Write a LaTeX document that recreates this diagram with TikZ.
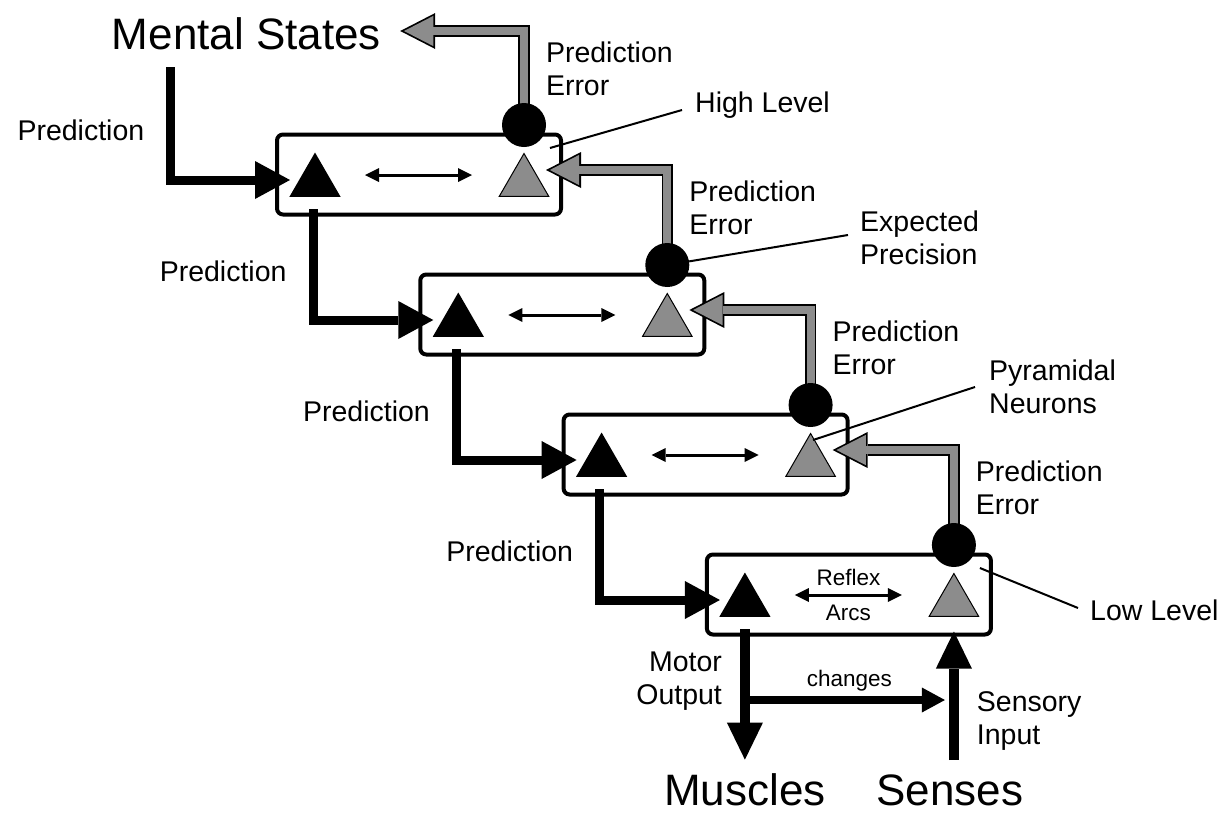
\documentclass[tikz,border=0pt]{standalone}
\usepackage{fontspec}
\setmainfont{Liberation Sans}
\usepackage{tikz}
\usetikzlibrary{shapes.geometric,arrows.meta,positioning,calc}
\definecolor{errgray}{RGB}{140,140,140}
\pgfdeclarelayer{front}
\pgfsetlayers{main,front}
\newcommand{\lblfont}{\fontsize{28.5}{33}\selectfont}
\newcommand{\smallfont}{\fontsize{22.5}{26}\selectfont}
\newcommand{\bigfont}{\fontsize{44}{50}\selectfont}

\begin{document}
\begin{tikzpicture}[
  x=1pt, y=-1pt,
  levelbox/.style={draw, line width=4pt, rounded corners=6pt, minimum width=284pt, minimum height=80pt, inner sep=0pt},
  fwdtri/.style={regular polygon, regular polygon sides=3, fill=black, minimum size=59pt, inner sep=0pt},
  errtri/.style={regular polygon, regular polygon sides=3, fill=errgray, draw=black, line width=1pt, minimum size=57pt, inner sep=0pt},
  errdot/.style={circle, fill=black, minimum size=44pt, inner sep=0pt},
  txt/.style={font=\lblfont, inner sep=0pt, align=left},
  smalltxt/.style={font=\smallfont, inner sep=0pt},
  bigtxt/.style={font=\bigfont, inner sep=0pt},
  predarrow/.style={line width=9pt, -{Triangle[length=35pt, width=38pt, line width'=0pt]}},
  errarrow/.style={draw=errgray, line width=8pt, shorten >=3.8pt, -{Triangle[length=29.4pt, width=30.3pt, line width'=0pt]},
    preaction={draw=black, line width=11.5pt, shorten >=0pt, -{Triangle[length=35pt, width=36pt, line width'=0pt]}}},
  motorarrow/.style={line width=10pt, -{Triangle[length=37pt, width=36pt, line width'=0pt]}},
  changearrow/.style={line width=8pt, -{Triangle[length=23pt, width=25pt, line width'=0pt]}},
  twoway/.style={line width=3pt, {Triangle[length=14pt, width=14pt, line width'=0pt]}-{Triangle[length=14pt, width=14pt, line width'=0pt]}},
  pointer/.style={line width=2pt}
]
\useasboundingbox[fill=white] (0,0) rectangle (1227,817);

% the four levels of the hierarchy
\foreach \i in {1,...,4} {
  \pgfmathsetmacro{\bx}{275+143.3*(\i-1)}
  \pgfmathsetmacro{\by}{133+140*(\i-1)}
  \node[levelbox] (b\i) at (\bx+144,\by+41.5) {};
  \node[fwdtri] (bt\i) at (\bx+40,\by+49) {};
  \node[errtri] (gt\i) at (\bx+249,\by+49) {};
  \begin{pgfonlayer}{front}
    \node[errdot] (gc\i) at (\bx+249,\by-8) {};
  \end{pgfonlayer}
}
\foreach \i in {1,2,3}
  \draw[twoway] ([xshift=50pt,yshift=7pt]bt\i.center) -- ([xshift=-52pt,yshift=7pt]gt\i.center);
\draw[twoway] ([xshift=50pt,yshift=7pt]bt4.center) -- node[smalltxt, above=8pt] {Reflex} node[smalltxt, below=9pt] {Arcs} ([xshift=-52pt,yshift=7pt]gt4.center);

% end points
\node[bigtxt] (ms) at (246.5,34) {Mental States};
\node[bigtxt] (mus) at (745,790) {Muscles};
\node[bigtxt] (sen) at (950,790) {Senses};

% labels with pointers
\node[txt, anchor=west] (hl) at (695,105) {High Level};
\node[txt, anchor=west] (ep) at (860,238) {Expected\\Precision};
\node[txt, anchor=west] (pn) at (989,387) {Pyramidal\\Neurons};
\node[txt, anchor=west] (ll) at (1090,610) {Low Level};
\draw[pointer] ([xshift=-13pt,yshift=-15.5pt]b1.north east) -- ([xshift=-13pt,yshift=-5pt]hl.west);
\draw[pointer] (gc2) -- ([xshift=-12pt,yshift=3pt]ep.west);
\draw[pointer] ([xshift=2.4pt,yshift=22pt]gt3.center) -- ([xshift=-14pt]pn.west);
\draw[pointer] ([xshift=-13pt,yshift=-15.5pt]b4.north east) -- ([xshift=-12pt,yshift=2pt]ll.west);

% predictions down
\draw[predarrow] ([xshift=59pt,yshift=-17pt]ms.south west) |- node[txt, pos=0.28, left=22pt] {Prediction} ([xshift=-25pt,yshift=2pt]bt1.center);
\foreach \i/\j in {1/2,2/3,3/4}
  \draw[predarrow] ([xshift=-2pt,yshift=-27pt]bt\i.center) |- node[txt, pos=0.28, left=22pt] {Prediction} ([xshift=-25pt,yshift=2pt]bt\j.center);

% prediction errors up
\draw[errarrow] (gc1.center) |- node[txt, pos=0.3, right=18pt] {Prediction\\Error} ([xshift=19pt,yshift=3pt]ms.east);
\foreach \i/\j in {2/1,3/2,4/3}
  \draw[errarrow] (gc\i.center) |- node[txt, pos=0.3, right=18pt] {Prediction\\Error} ([xshift=22pt,yshift=12pt]gt\j.center);

% motor output and sensory input
\coordinate (mo) at ([yshift=-27pt]bt4.center);
\coordinate (ch) at ($(mo)+(0,71)$);
\draw[motorarrow, shorten >=14pt] (mo) -- node[txt, pos=0.36, left=18pt, align=right] {Motor\\Output} (mo |- mus.north);
\draw[motorarrow, shorten <=14pt, shorten >=-5pt] (gt4 |- sen.north) -- node[txt, pos=0.385, right=18pt] {Sensory\\Input} (gt4 |- b4.south);
\draw[changearrow, shorten >=9pt] (ch) -- node[smalltxt, above=5pt] {changes} (ch -| gt4);
\end{tikzpicture}
\end{document}
